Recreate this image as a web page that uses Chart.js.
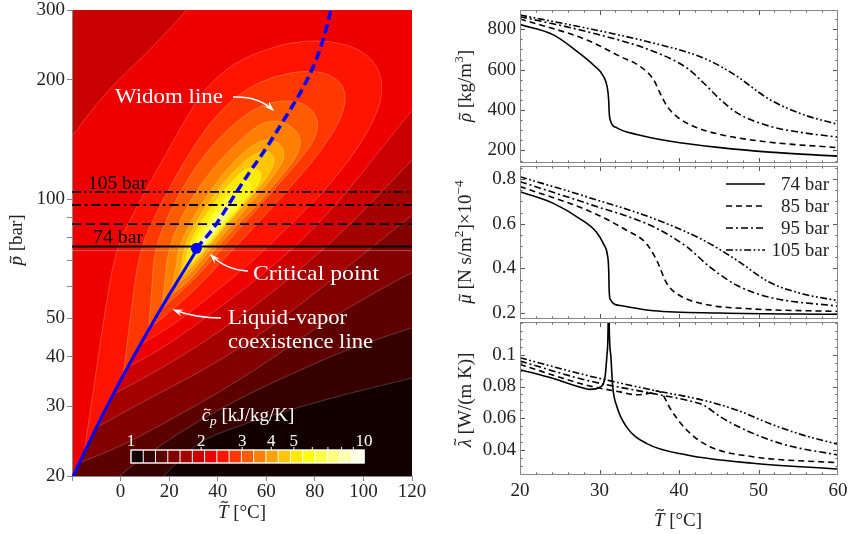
<!DOCTYPE html>
<html>
<head>
<meta charset="utf-8">
<title>CO2 near the critical point</title>
<script src="https://cdn.jsdelivr.net/npm/chart.js@4.4.0/dist/chart.umd.min.js"></script>
<style>
  body { margin: 0; background: #fff; }
  #fig { position: relative; width: 848px; height: 534px; overflow: hidden; background: #fff; }
  #fig canvas { position: absolute; }
</style>
</head>
<body>
<div id="fig">
  <canvas id="rho" width="428" height="165" style="left:420px; top:0px"></canvas>
  <canvas id="mu" width="428" height="156" style="left:420px; top:165px"></canvas>
  <canvas id="lam" width="428" height="213" style="left:420px; top:321px"></canvas>
  <canvas id="map" width="440" height="534" style="left:0px; top:0px"></canvas>
</div>
<script>
const SERIF = '"Liberation Serif", "Times New Roman", serif';

// ---------- left panel: cp map (T in degC, p in bar) ----------
const tAxisTicks = [-20, 0, 20, 40, 60, 80, 100, 120];
const pAxisTicks = [20, 30, 40, 50, 60, 70, 80, 90, 100, 200, 300];
const pAxisLabels = [20, 30, 40, 50, 100, 200, 300];

const cpRange = [1, 10];               // colour bar, 19 log bins
const cpTicks = [1, 2, 3, 4, 5, 10];
const cpMinorTicks = [2, 3, 4, 5, 6, 7, 8, 9];
const hot = ['#120000','#370000','#5c0000','#810000','#a50000','#ca0000','#ef0000','#ff1400','#ff3800',
             '#ff5b00','#ff7f00','#ffa200','#ffc600','#ffea00','#ffff11','#ffff46','#ffff7b','#ffffb0','#ffffe4'];

const coexT = [-20, -15, -10, -5, 0, 5, 10, 15, 20, 25, 28, 30, 31];
const coexP = [19.7, 22.9, 26.5, 30.5, 34.9, 39.7, 45.0, 50.9, 57.3, 64.3, 68.9, 72.1, 73.8];
const widomT = [31.2, 35.6, 39.7, 47.9, 54, 60.3, 68.5, 75.1, 80.5, 84.2, 86.6];
const widomP = [75.1, 80.6, 87.0, 104.5, 119, 135.4, 163, 190.7, 224.3, 262.4, 300];
const critT = 31.2, critP = 75.1;
// isobars as drawn on the map (labelled 74, 85, 95, 105 bar)
const isobars = [75.9, 86.4, 96.6, 104.2];
const seamP = 74.1;

// regions where cp is above each bin edge
const cp1 = [[-22,19],[-22,320],[122,320],[122,35.6],[120,35.3],[94.5,32.4],[73.9,29.9],[53.3,27.4],[33.5,24.7],[26.5,22.6],[20.4,20.8],[17.5,19.9],[16.5,19]];
const cp2 = [[-22,19],[-22,320],[122,320],[122,47.8],[120,47.3],[94.5,42.1],[73.9,37.0],[53.3,32.4],[32.7,27.7],[16.2,23.9],[-1.1,20],[-3,19]];
const cp3 = [[-22,19],[-22,320],[122,320],[122,66],[120,65.4],[102.7,57.2],[82.1,48.1],[61.5,39.2],[40.9,32.6],[20.4,27.7],[-0.2,23.7],[-17,21.6],[-20,19.7]];
const cp4 = [[-22,19],[-22,320],[122,320],[122,93],[120,91.1],[94.5,68.2],[73.9,54.0],[53.3,43.6],[32.7,36.6],[12.1,31.5],[-10,26.5],[-15,22.9],[-20,19.7]];
const cp5 = [[-22,19],[-22,320],[122,320],[122,129],[120,125.5],[94.5,86.0],[73.9,66.2],[53.3,52.5],[32.7,42.8],[12.1,36.0],[-3,32.2],[-5,30.5],[-10,26.5],[-15,22.9],[-20,19.7]];
const cp6 = [[-22,140],[-20,143.4],[-10.5,172.7],[-0.2,202],[12.1,237.8],[27.4,300],[30,320],[122,320],[122,172],[120,167.7],[106.8,132.9],[92.4,102.4],[73.9,77.5],[53.3,60.7],[32.7,48.9],[16.2,41.6],[3,37.7],[0,34.9],[-5,30.5],[-10,26.5],[-15,22.9],[-20,19.7],[-22,19]];
const cp7 = [[-15,22.9],[-11.8,31.1],[-7.6,46.7],[-2.3,74.4],[5.9,93.8],[16.2,121.9],[26.5,158.3],[34.8,190.7],[47.1,221.8],[62.4,242],[75.9,252],[89.9,249],[100.6,235],[106.8,211.7],[108.1,183],[103.5,153.8],[94.5,125.5],[81.3,100.6],[67.7,83.5],[54.1,69.4],[38.9,58.2],[23.6,48.9],[8,42.8],[5,39.7],[0,34.9],[-5,30.5],[-10,26.5]];
const cp8 = [[1,35.8],[3.9,49.5],[7.6,74.4],[16.2,96.6],[26.5,125.5],[36.8,156.5],[49.2,186.3],[63.6,205.6],[78.8,211.7],[88.3,204.1],[93.2,186.3],[91.2,160.1],[82.9,132.9],[72.6,111.7],[61.5,93.8],[51.2,80.2],[43.0,71.0],[32.7,60.7],[22.4,53.1],[12,47.3],[10,45.0],[5,39.7]];
const cp9 = [[11.5,46.7],[12.9,58.9],[13.8,74.4],[20.4,93.8],[28.6,115],[37.6,136.9],[49.2,160.1],[59.5,174.7],[69.4,177.8],[77.2,172.7],[81.7,158.3],[80.1,140.9],[73.1,124],[64.8,108.5],[56.6,94.9],[49.2,84.5],[41.8,75.2],[34.8,67.0],[26.5,59.6],[16,52.1],[15,50.9]];
const cp10 = [[17,53.3],[18.3,62.5],[19.5,74.4],[25.3,91.1],[32.7,108.5],[40.9,125.5],[49.2,140.9],[56.6,153.8],[62.4,158.3],[68.9,155.6],[74.7,143.4],[73.1,129.2],[67.7,117],[61.5,105.4],[55.4,95.5],[49.2,87.5],[43.0,79.7],[38.1,73.5],[32.7,67.0],[27.8,61.8],[19,56.0]];
const cp11 = [[20.5,58.0],[22.8,66.2],[23.6,74.4],[28.6,87.5],[34.8,100.6],[41.8,115],[49.2,129.2],[56.6,140.1],[62.4,141.8],[66.9,135.9],[67.7,126.9],[64.0,116.3],[58.6,106],[53.3,97.2],[47.5,88.5],[41.8,80.6],[36.8,74.4],[32.7,69.4],[29.8,65.8],[22,60.0]];
const cp12 = [[22.5,60.7],[25.3,66.2],[25.7,74.4],[30.2,86.0],[36.0,97.7],[42.6,110.4],[49.2,121.9],[55.4,130.7],[60.3,132.9],[63.6,127.7],[62.4,118.4],[58.2,109.2],[53.3,100.6],[47.9,92.2],[42.6,84.5],[38.1,78.4],[34.4,73.5],[31.5,69.4],[24,62.8]];
const cp13 = [[24.3,63.3],[26.9,69.4],[27.4,74.4],[31.5,84.5],[36.4,93.8],[41.8,104.2],[47.1,113],[51.2,119.1],[54.9,120.5],[58.2,117],[57.4,109.8],[53.3,102.4],[48.4,93.8],[43.4,87.0],[39.0,80.6],[35.2,75.7],[32.7,72.2],[25.8,65.5]];
const cp14 = [[26,65.8],[28.6,71.0],[29.0,74.4],[32.3,82.1],[36.8,90.1],[41.8,98.3],[46.3,105.4],[50.0,110.4],[52.9,111.1],[54.1,107.2],[51.6,100.6],[47.5,93.8],[43.0,87.0],[38.5,80.6],[35.2,76.6],[32.7,73.5],[26.8,67.0]];
const cp15 = [[27.3,67.8],[30.0,74.4],[32.6,80],[36.5,87],[41.0,95],[44.5,101],[47.5,104.5],[49.0,101],[46.8,95],[42.2,87],[37.2,80],[33.0,74.4],[28,68.9]];
const cp16 = [[28.5,69.7],[30.6,74.4],[33.5,80],[37.5,87],[41.8,94],[44.5,98],[45.3,94],[41.5,87],[36.5,80],[32.6,74.4],[29,70.5]];
const cp17 = [[29.7,71.6],[31.0,74.4],[34.2,80],[37.8,86],[41.5,90.5],[40.2,86],[36.0,80],[32.3,74.4],[30,72.1]];
const cp18 = [[30.4,72.8],[31.3,74.6],[34.0,79],[37.5,84],[35.2,79],[32.0,74.6],[30.6,73.1]];
const cpRegions = [cp1, cp2, cp3, cp4, cp5, cp6, cp7, cp8, cp9, cp10, cp11, cp12, cp13, cp14, cp15, cp16, cp17, cp18];

// ---------- right panels: properties along the isobars ----------
const propT = [20, 30, 40, 50, 60];
const rhoTicks = [200, 400, 600, 800];
const muTicks = [0.2, 0.4, 0.6, 0.8];
const lamTicks = [0.04, 0.06, 0.08, 0.1];

const rhoT74 = [20, 24.2, 27.5, 29.2, 30.5, 30.95, 31.15, 31.22, 31.4, 32.2, 34.7, 38.9, 45.2, 51.4, 60];
const rho74  = [823, 772, 680, 624, 567, 517, 452, 387, 345, 312, 279, 246, 214, 192, 172];
const rhoT85 = [20, 28.4, 32.6, 35.1, 36.8, 37.6, 38.5, 39.7, 41.8, 45.2, 51.4, 60];
const rho85  = [851, 747, 665, 616, 550, 485, 419, 369, 320, 279, 241, 214];
const rhoT95 = [20, 28.4, 36.8, 41.0, 43.1, 45.2, 47.3, 51.4, 55.6, 60];
const rho95  = [862, 788, 690, 608, 534, 452, 386, 320, 288, 266];
const rhoT105 = [20, 28.4, 36.8, 43.1, 47.3, 49.3, 51.4, 55.6, 60];
const rho105  = [870, 805, 731, 657, 567, 509, 452, 378, 329];

const muT74 = [20, 24.2, 27.5, 29.6, 30.5, 31.0, 31.15, 31.22, 31.35, 32.6, 36.8, 45.2, 60];
const mu74  = [0.743, 0.691, 0.623, 0.563, 0.510, 0.460, 0.400, 0.300, 0.262, 0.234, 0.211, 0.201, 0.195];
const muT85 = [20, 28.4, 33.4, 35.9, 37.2, 38.5, 40.1, 43.1, 49.3, 60];
const mu85  = [0.766, 0.661, 0.571, 0.511, 0.436, 0.331, 0.279, 0.241, 0.219, 0.208];
const muT95 = [20, 28.4, 36.8, 41.0, 43.9, 47.3, 51.4, 60];
const mu95  = [0.788, 0.691, 0.586, 0.496, 0.406, 0.324, 0.271, 0.231];
const muT105 = [20, 28.4, 36.8, 43.1, 47.3, 51.4, 55.6, 60];
const mu105  = [0.810, 0.720, 0.623, 0.526, 0.436, 0.338, 0.286, 0.256];

const lamT74 = [20, 24.2, 27.5, 28.8, 30.1, 30.7, 30.95, 31.1, 31.15, 31.2, 31.4, 31.66, 32.2, 33.4, 35.9, 41.0, 49.3, 60];
const lam74  = [0.0906, 0.0850, 0.0797, 0.0782, 0.0797, 0.0860, 0.1006, 0.125, 0.2, 0.125, 0.1006, 0.0800, 0.0671, 0.0546, 0.0442, 0.0369, 0.0317, 0.0281];
const lamT85 = [20, 28.4, 32.6, 34.7, 36.5, 37.3, 38.0, 38.9, 41.0, 43.9, 49.3, 60];
const lam85  = [0.0939, 0.0808, 0.0766, 0.0748, 0.0760, 0.0772, 0.0745, 0.0661, 0.0525, 0.0421, 0.0358, 0.0320];
const lamT95 = [20, 28.4, 36.8, 41.0, 43.1, 45.2, 49.3, 53.5, 60];
const lam95  = [0.0960, 0.0839, 0.0755, 0.0713, 0.0682, 0.0609, 0.0505, 0.0431, 0.0369];
const lamT105 = [20, 28.4, 36.8, 43.1, 47.3, 51.4, 55.6, 60];
const lam105  = [0.0981, 0.0870, 0.0776, 0.0713, 0.0651, 0.0567, 0.0494, 0.0436];

const seriesNames = ['74 bar', '85 bar', '95 bar', '105 bar'];
const seriesDash = [[], [6, 4], [7, 3, 2, 3], [7, 2.5, 1.8, 2.5, 1.8, 2.5]];

// ---------- helpers ----------
Chart.defaults.font.family = SERIF;
Chart.defaults.font.size = 19;
Chart.defaults.color = '#222';

const xy = (T, v) => T.map((t, i) => ({x: t, y: v[i]}));
const range = (a, b, s) => { const r = []; for (let v = a; v <= b + 1e-9; v += s) r.push(+v.toFixed(4)); return r; };

function psat(t) {
  for (let i = 1; i < coexT.length; i++) {
    if (t <= coexT[i]) {
      const f = (t - coexT[i - 1]) / (coexT[i] - coexT[i - 1]);
      return coexP[i - 1] + f * (coexP[i] - coexP[i - 1]);
    }
  }
  return NaN;
}
// corners outside the frame and points on the coexistence line stay sharp
const isSharp = ([t, p]) => t < -20 || t > 120 || p < 20 || p > 300 ||
  (t >= -20 && t <= 31 && Math.abs(p / psat(t) - 1) < 0.015);

function tracePath(ctx, pts, sharp) {
  const n = pts.length;
  const mid = (a, b) => [(a[0] + b[0]) / 2, (a[1] + b[1]) / 2];
  ctx.beginPath();
  const s = sharp[0] ? pts[0] : mid(pts[n - 1], pts[0]);
  ctx.moveTo(s[0], s[1]);
  for (let i = 0; i < n; i++) {
    const p = pts[i];
    if (sharp[i]) { ctx.lineTo(p[0], p[1]); }
    else { const m = mid(p, pts[(i + 1) % n]); ctx.quadraticCurveTo(p[0], p[1], m[0], m[1]); }
  }
  ctx.closePath();
}

function rich(ctx, parts, x, y, o = {}) {
  const size = o.size || 19, color = o.color || '#222', align = o.align || 'center';
  ctx.save();
  ctx.translate(x, y);
  if (o.rot) ctx.rotate(o.rot);
  ctx.fillStyle = color; ctx.strokeStyle = color;
  ctx.textBaseline = 'alphabetic'; ctx.textAlign = 'left';
  const fontOf = p => `${p.it ? 'italic ' : ''}${(p.sup || p.sub) ? size * 0.7 : size}px ${SERIF}`;
  let w = 0;
  const ws = parts.map(p => { ctx.font = fontOf(p); const m = ctx.measureText(p.t).width; w += m; return m; });
  let cx = align === 'center' ? -w / 2 : align === 'right' ? -w : 0;
  parts.forEach((p, i) => {
    ctx.font = fontOf(p);
    const dy = p.sup ? -size * 0.4 : p.sub ? size * 0.22 : 0;
    ctx.fillText(p.t, cx, dy);
    if (p.tilde) {
      const tw = size * 0.34, ty = dy - size * (p.tall ? 0.84 : 0.6);
      const tx = cx + ws[i] / 2 + (p.it ? size * 0.07 : 0);
      ctx.lineWidth = size * 0.055;
      ctx.beginPath();
      ctx.moveTo(tx - tw / 2, ty + tw * 0.1);
      ctx.bezierCurveTo(tx - tw / 6, ty - tw * 0.45, tx + tw / 6, ty + tw * 0.45, tx + tw / 2, ty - tw * 0.1);
      ctx.stroke();
    }
    cx += ws[i];
  });
  ctx.restore();
}

function fitText(ctx, text, x, y, width, size, color) {
  ctx.save();
  ctx.font = `${size}px ${SERIF}`;
  const w = ctx.measureText(text).width;
  ctx.translate(x, y);
  ctx.scale(width / w, 1);
  ctx.fillStyle = color;
  ctx.textBaseline = 'alphabetic'; ctx.textAlign = 'left';
  ctx.fillText(text, 0, 0);
  ctx.restore();
}

function arrow(ctx, x0, y0, cx, cy, x1, y1) {
  ctx.beginPath(); ctx.moveTo(x0, y0); ctx.quadraticCurveTo(cx, cy, x1, y1); ctx.stroke();
  const a = Math.atan2(y1 - cy, x1 - cx), L = 9, W = 3.6;
  const c = Math.cos(a), s = Math.sin(a);
  ctx.beginPath();
  ctx.moveTo(x1 + c * 1.5, y1 + s * 1.5);
  ctx.lineTo(x1 - L * c + W * s, y1 - L * s - W * c);
  ctx.lineTo(x1 - L * 0.55 * c, y1 - L * 0.55 * s);
  ctx.lineTo(x1 - L * c - W * s, y1 - L * s + W * c);
  ctx.closePath(); ctx.fill();
}

// ---------- left chart ----------
const mapPlugin = {
  id: 'cpMap',
  beforeDraw(chart) {
    const {ctx, chartArea: a, scales: {x, y}} = chart;
    ctx.save();
    ctx.beginPath(); ctx.rect(a.left, a.top, a.right - a.left, a.bottom - a.top); ctx.clip();
    ctx.fillStyle = hot[0];
    ctx.fillRect(a.left, a.top, a.right - a.left, a.bottom - a.top);
    cpRegions.forEach((poly, i) => {
      const pts = poly.map(([t, p]) => [x.getPixelForValue(t), y.getPixelForValue(p)]);
      tracePath(ctx, pts, poly.map(isSharp));
      ctx.fillStyle = hot[i + 1];
      ctx.fill();
      ctx.strokeStyle = 'rgba(255,255,255,0.3)';
      ctx.lineWidth = 0.7;
      ctx.stroke();
    });
    ctx.restore();
  },
  afterDraw(chart) {
    const ctx = chart.ctx;
    ctx.save();
    // isobar labels
    fitText(ctx, '105 bar', 88, 189, 59, 19, '#000');
    fitText(ctx, '74 bar', 93, 243, 50, 19, '#000');
    // annotations
    fitText(ctx, 'Widom line', 115, 103, 108, 21, '#fff');
    fitText(ctx, 'Critical point', 253, 280, 126, 21, '#fff');
    fitText(ctx, 'Liquid-vapor', 228, 324, 119, 21, '#fff');
    fitText(ctx, 'coexistence line', 228, 348, 145, 21, '#fff');
    ctx.strokeStyle = '#fff'; ctx.fillStyle = '#fff'; ctx.lineWidth = 1.5;
    arrow(ctx, 233, 97, 258, 96, 273, 110);
    arrow(ctx, 248, 271, 226, 270, 211, 255);
    arrow(ctx, 221, 318, 196, 318, 174, 310);
    // colour bar
    const x0 = 131, x1 = 364, y0 = 450, y1 = 463, n = hot.length, cw = (x1 - x0) / n;
    hot.forEach((c, i) => { ctx.fillStyle = c; ctx.fillRect(x0 + i * cw, y0, cw + 0.5, y1 - y0); });
    ctx.strokeStyle = '#fff'; ctx.lineWidth = 1;
    for (let i = 1; i < n; i++) {
      ctx.beginPath(); ctx.moveTo(x0 + i * cw, y0); ctx.lineTo(x0 + i * cw, y1); ctx.stroke();
    }
    ctx.lineWidth = 1.4; ctx.strokeRect(x0, y0, x1 - x0, y1 - y0);
    const lx = v => x0 + Math.log10(v / cpRange[0]) / Math.log10(cpRange[1] / cpRange[0]) * (x1 - x0);
    ctx.lineWidth = 1;
    cpMinorTicks.forEach(v => { ctx.beginPath(); ctx.moveTo(lx(v), y0 - 3); ctx.lineTo(lx(v), y0); ctx.stroke(); });
    ctx.fillStyle = '#fff'; ctx.font = `17px ${SERIF}`; ctx.textAlign = 'center'; ctx.textBaseline = 'alphabetic';
    cpTicks.forEach(v => ctx.fillText(String(v), lx(v), 446));
    rich(ctx, [{t: 'c', it: 1, tilde: 1}, {t: 'p', it: 1, sub: 1}, {t: ' [kJ/kg/K]'}], 248, 421, {color: '#fff', size: 19});
    // axis titles
    rich(ctx, [{t: 'p', it: 1, tilde: 1}, {t: ' [bar]'}], 22, 240, {rot: -Math.PI / 2});
    rich(ctx, [{t: 'T', it: 1, tilde: 1, tall: 1}, {t: ' [°C]'}], 242, 518);
    ctx.restore();
  }
};

const blackLine = (p, dash) => ({
  data: [{x: -20, y: p}, {x: 120, y: p}], showLine: true, borderColor: '#000',
  borderWidth: 1.8, borderDash: dash, pointRadius: 0
});

new Chart(document.getElementById('map'), {
  type: 'scatter',
  data: {
    datasets: [
      {data: [{x: critT, y: critP}], pointRadius: 5.5, pointBackgroundColor: '#0000ff', pointBorderWidth: 0},
      {data: xy(widomT, widomP), showLine: true, borderColor: '#0000ff', borderWidth: 3.5,
       borderDash: [9, 5], pointRadius: 0, tension: 0.35},
      {data: xy(coexT, coexP), showLine: true, borderColor: '#0000ff', borderWidth: 3, pointRadius: 0},
      blackLine(isobars[0], []),
      blackLine(isobars[1], [9, 5]),
      blackLine(isobars[2], [9, 4, 2.5, 4]),
      blackLine(isobars[3], [9, 3, 2.5, 3, 2.5, 3]),
      {data: [{x: -20, y: seamP}, {x: 120, y: seamP}], showLine: true,
       borderColor: 'rgba(255,225,225,0.45)', borderWidth: 0.8, pointRadius: 0}
    ]
  },
  options: {
    responsive: false, animation: false, events: [],
    layout: {padding: {top: 10, right: 28, left: 0, bottom: 0}},
    plugins: {legend: {display: false}, tooltip: {enabled: false}},
    scales: {
      x: {
        type: 'linear', min: -20, max: 120,
        grid: {drawOnChartArea: false, tickLength: 5, color: '#888'}, border: {color: '#888'},
        ticks: {padding: 0, autoSkip: false, maxRotation: 0, callback: v => v === -20 ? '' : String(v)},
        afterBuildTicks: s => { s.ticks = tAxisTicks.map(v => ({value: v})); },
        afterFit: s => { s.height = 58; s.paddingLeft = 0; s.paddingRight = 0; }
      },
      y: {
        type: 'logarithmic', min: 20, max: 300,
        grid: {drawOnChartArea: false, tickLength: 5, color: '#888'}, border: {color: '#888'},
        ticks: {padding: 2, autoSkip: false, font: {lineHeight: 1},
                callback: v => pAxisLabels.includes(v) ? String(v) : ''},
        afterBuildTicks: s => { s.ticks = pAxisTicks.map(v => ({value: v})); },
        afterFit: s => { s.width = 72; s.paddingTop = 0; s.paddingBottom = 0; }
      }
    }
  },
  plugins: [mapPlugin]
});

// ---------- right charts ----------
const frameTicks = {
  id: 'frameTicks',
  afterDatasetsDraw(chart, args, o) {
    const {ctx, chartArea: a, scales: {x, y}} = chart;
    ctx.save();
    ctx.lineWidth = 1;
    ctx.strokeStyle = '#555';
    ctx.beginPath();
    const vx = (vals, len) => vals.forEach(v => {
      const px = Math.round(x.getPixelForValue(v)) + 0.5;
      if (px < a.left + 1 || px > a.right - 1) return;
      ctx.moveTo(px, a.bottom); ctx.lineTo(px, a.bottom - len);
      ctx.moveTo(px, a.top); ctx.lineTo(px, a.top + len);
    });
    const vy = (vals, len) => vals.forEach(v => {
      const py = Math.round(y.getPixelForValue(v)) + 0.5;
      if (py < a.top + 1 || py > a.bottom - 1) return;
      ctx.moveTo(a.left, py); ctx.lineTo(a.left + len, py);
      ctx.moveTo(a.right, py); ctx.lineTo(a.right - len, py);
    });
    vx(o.xMajor, 5); vx(o.xMinor, 2.5);
    vy(o.yMajor, 5); vy(o.yMinor, 2.5);
    ctx.stroke();
    ctx.strokeStyle = '#888';
    ctx.strokeRect(a.left + 0.5, a.top + 0.5, a.right - a.left - 1, a.bottom - a.top - 1);
    if (o.title) rich(ctx, o.title, 51, o.titleY, {rot: -Math.PI / 2});
    if (o.xTitle) rich(ctx, o.xTitle, 258, 205);
    if (o.legend) {
      chart.data.datasets.forEach((d, i) => {
        const yy = 19 + i * 22;
        ctx.save();
        ctx.strokeStyle = '#000'; ctx.lineWidth = d.borderWidth; ctx.setLineDash(d.borderDash);
        ctx.beginPath(); ctx.moveTo(306, yy); ctx.lineTo(345, yy); ctx.stroke();
        ctx.restore();
        ctx.fillStyle = '#222'; ctx.font = `19px ${SERIF}`; ctx.textAlign = 'right'; ctx.textBaseline = 'middle';
        ctx.fillText(d.label, 409, yy + 1);
      });
    }
    ctx.restore();
  }
};

function propChart(id, sets, y, showX, pad, extra) {
  return new Chart(document.getElementById(id), {
    type: 'scatter',
    data: {
      datasets: sets.map((s, i) => ({
        label: seriesNames[i], data: s, showLine: true, borderColor: '#000', borderWidth: 1.6,
        borderDash: seriesDash[i], pointRadius: 0, cubicInterpolationMode: 'monotone'
      }))
    },
    options: {
      responsive: false, animation: false, events: [],
      layout: {padding: pad},
      plugins: {
        legend: {display: false}, tooltip: {enabled: false},
        frameTicks: Object.assign({xMajor: propT, xMinor: range(20, 60, 2), yMajor: y.ticks, yMinor: y.minor}, extra)
      },
      scales: {
        x: {
          type: 'linear', min: 20, max: 60, display: showX,
          grid: {display: false, drawTicks: false}, border: {display: false},
          ticks: {padding: 5, autoSkip: false, maxRotation: 0},
          afterBuildTicks: s => { s.ticks = propT.map(v => ({value: v})); },
          afterFit: s => { s.height = showX ? 59 : 0; s.paddingLeft = 0; s.paddingRight = 0; }
        },
        y: {
          type: 'linear', min: y.min, max: y.max,
          grid: {display: false, drawTicks: false}, border: {display: false},
          ticks: {padding: 4, autoSkip: false, callback: v => String(v)},
          afterBuildTicks: s => { s.ticks = y.ticks.map(v => ({value: v})); },
          afterFit: s => { s.width = 100; s.paddingTop = 0; s.paddingBottom = 0; }
        }
      }
    },
    plugins: [frameTicks]
  });
}

propChart('rho', [xy(rhoT74, rho74), xy(rhoT85, rho85), xy(rhoT95, rho95), xy(rhoT105, rho105)],
  {min: 138, max: 895, ticks: rhoTicks, minor: range(150, 850, 50)}, false,
  {top: 10, bottom: 2, left: 0, right: 10},
  {title: [{t: 'ρ', it: 1, tilde: 1}, {t: ' [kg/m'}, {t: '3', sup: 1}, {t: ']'}], titleY: 86});

propChart('mu', [xy(muT74, mu74), xy(muT85, mu85), xy(muT95, mu95), xy(muT105, mu105)],
  {min: 0.174, max: 0.858, ticks: muTicks, minor: range(0.2, 0.85, 0.05)}, false,
  {top: 1, bottom: 2, left: 0, right: 10},
  {title: [{t: 'μ', it: 1, tilde: 1}, {t: ' [N s/m'}, {t: '2', sup: 1}, {t: ']×10'}, {t: '−4', sup: 1}], titleY: 77, legend: true});

propChart('lam', [xy(lamT74, lam74), xy(lamT85, lam85), xy(lamT95, lam95), xy(lamT105, lam105)],
  {min: 0.0243, max: 0.1206, ticks: lamTicks, minor: range(0.025, 0.12, 0.005)}, true,
  {top: 1, bottom: 0, left: 0, right: 10},
  {title: [{t: 'λ', it: 1, tilde: 1, tall: 1}, {t: ' [W/(m K)]'}], titleY: 79,
   xTitle: [{t: 'T', it: 1, tilde: 1, tall: 1}, {t: ' [°C]'}]});
</script>
</body>
</html>
